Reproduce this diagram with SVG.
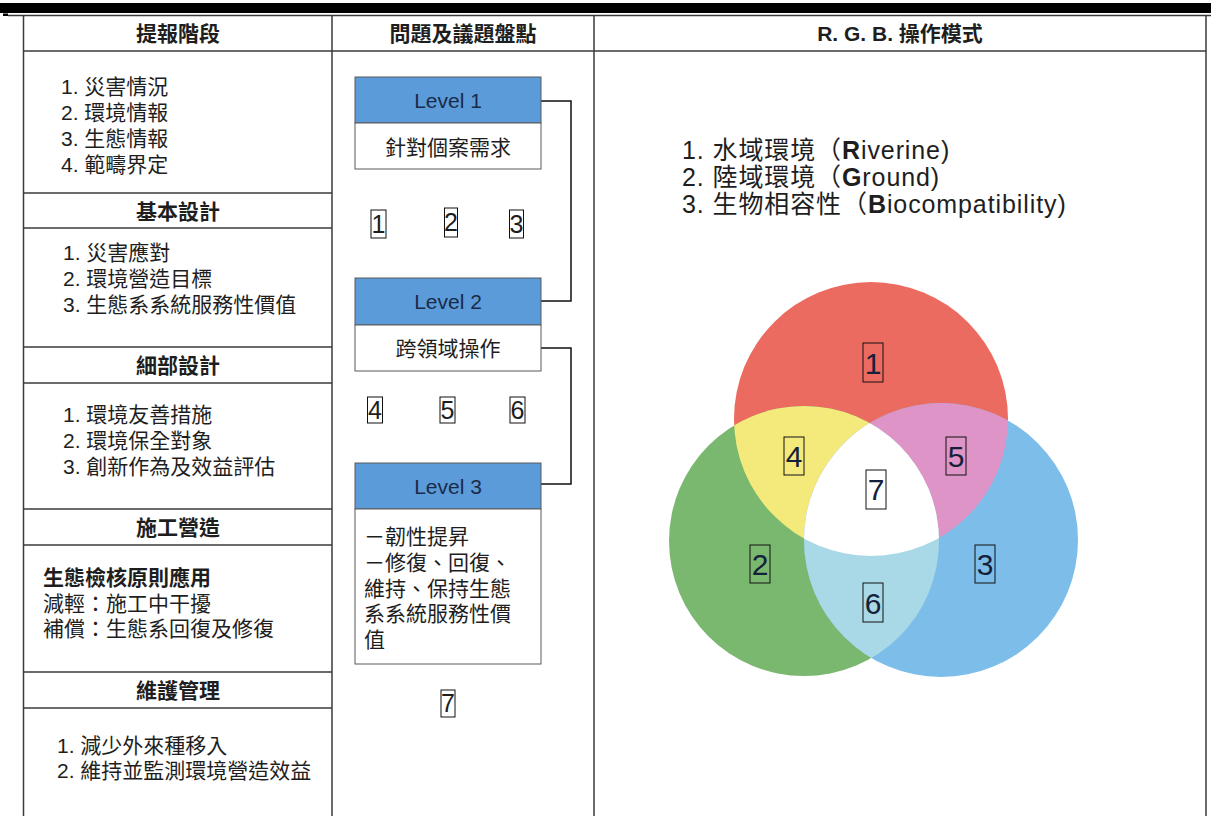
<svg xmlns="http://www.w3.org/2000/svg" width="1211" height="816" viewBox="0 0 1211 816">
<style>
text{font-family:"Liberation Sans","Noto Sans CJK TC",sans-serif;fill:#1e1e1e}
.t{font-size:21px}
.h{font-size:21px;font-weight:bold;text-anchor:middle}
.grid{stroke:#3a3a3a;stroke-width:1.5;fill:none}
.lvh{fill:#5b9bd9;stroke:#5a5a5a;stroke-width:1}
.lvb{fill:#ffffff;stroke:#5a5a5a;stroke-width:1}
.lvt{font-size:21px;text-anchor:middle;fill:#1b2a48}
.nb{fill:none;stroke:#111;stroke-width:1}
.nd{font-size:25px;text-anchor:middle}
.vd{font-size:30px;text-anchor:middle;fill:#15203a}
.lg{font-size:25px;letter-spacing:0.9px}
.conn{fill:none;stroke:#111;stroke-width:1.5}
</style>
<defs>
<clipPath id="cR"><circle cx="871" cy="419" r="137"/></clipPath>
<clipPath id="cG"><circle cx="804" cy="541" r="135"/></clipPath>
</defs>
<rect width="1211" height="816" fill="#ffffff"/>
<rect x="0" y="3" width="1211" height="10" fill="#000"/>
<rect x="3" y="13.5" width="5" height="2.5" fill="#000"/>
<g id="table" class="grid">
<line x1="8" y1="15.5" x2="1211" y2="15.5"/>
<line x1="23.5" y1="15" x2="23.5" y2="816"/>
<line x1="332" y1="15" x2="332" y2="816"/>
<line x1="594" y1="15" x2="594" y2="816"/>
<line x1="1206" y1="15" x2="1206" y2="816"/>
<line x1="23.5" y1="51" x2="1206" y2="51"/>
<line x1="23.5" y1="193" x2="332" y2="193"/>
<line x1="23.5" y1="228" x2="332" y2="228"/>
<line x1="23.5" y1="347" x2="332" y2="347"/>
<line x1="23.5" y1="383" x2="332" y2="383"/>
<line x1="23.5" y1="509" x2="332" y2="509"/>
<line x1="23.5" y1="545" x2="332" y2="545"/>
<line x1="23.5" y1="672" x2="332" y2="672"/>
<line x1="23.5" y1="708" x2="332" y2="708"/>
</g>
<g id="headers">
<text class="h" x="178" y="41">提報階段</text>
<text class="h" x="463" y="41">問題及議題盤點</text>
<text class="h" x="900" y="41">R. G. B. 操作模式</text>
</g>
<g id="stage1">
<text class="t" x="61" y="94">1. 災害情況</text>
<text class="t" x="61" y="120">2. 環境情報</text>
<text class="t" x="61" y="146">3. 生態情報</text>
<text class="t" x="61" y="172">4. 範疇界定</text>
</g>
<g id="stage2">
<text class="h" x="178" y="219">基本設計</text>
<text class="t" x="63" y="260">1. 災害應對</text>
<text class="t" x="63" y="286">2. 環境營造目標</text>
<text class="t" x="63" y="312">3. 生態系系統服務性價值</text>
</g>
<g id="stage3">
<text class="h" x="178" y="373">細部設計</text>
<text class="t" x="63" y="422">1. 環境友善措施</text>
<text class="t" x="63" y="448">2. 環境保全對象</text>
<text class="t" x="63" y="474">3. 創新作為及效益評估</text>
</g>
<g id="stage4">
<text class="h" x="178" y="535">施工營造</text>
<text class="t" x="43" y="585" font-weight="bold">生態檢核原則應用</text>
<text class="t" x="43" y="611">減輕：施工中干擾</text>
<text class="t" x="43" y="636">補償：生態系回復及修復</text>
</g>
<g id="stage5">
<text class="h" x="178" y="698">維護管理</text>
<text class="t" x="57" y="753">1. 減少外來種移入</text>
<text class="t" x="57" y="778">2. 維持並監測環境營造效益</text>
</g>
<g id="connectors">
<path class="conn" d="M541 101 H571 V301 H541"/>
<path class="conn" d="M541 348 H571 V484 H541"/>
</g>
<g id="level1">
<rect class="lvh" x="355" y="77" width="186" height="46"/>
<rect class="lvb" x="355" y="123" width="186" height="46"/>
<text class="lvt" x="448" y="108">Level 1</text>
<text class="lvt" x="448" y="155" style="fill:#1e1e1e">針對個案需求</text>
</g>
<g id="nums123">
<rect class="nb" x="371" y="210" width="15" height="28"/><text class="nd" x="378.5" y="233">1</text>
<rect class="nb" x="444.5" y="208" width="13" height="29"/><text class="nd" x="451" y="231">2</text>
<rect class="nb" x="509.5" y="210" width="14" height="28"/><text class="nd" x="516.5" y="233">3</text>
</g>
<g id="level2">
<rect class="lvh" x="355" y="278" width="186" height="47"/>
<rect class="lvb" x="355" y="325" width="186" height="46"/>
<text class="lvt" x="448" y="309">Level 2</text>
<text class="lvt" x="448" y="356" style="fill:#1e1e1e">跨領域操作</text>
</g>
<g id="nums456">
<rect class="nb" x="367.5" y="397" width="15" height="26"/><text class="nd" x="375" y="419">4</text>
<rect class="nb" x="440" y="397" width="15" height="26"/><text class="nd" x="447.5" y="419">5</text>
<rect class="nb" x="510" y="397" width="15" height="26"/><text class="nd" x="517.5" y="419">6</text>
</g>
<g id="level3">
<rect class="lvh" x="355" y="463" width="186" height="46"/>
<rect class="lvb" x="355" y="509" width="186" height="155"/>
<text class="lvt" x="448" y="494">Level 3</text>
<text class="t" x="364" y="544">－韌性提昇</text>
<text class="t" x="364" y="570">－修復、回復、</text>
<text class="t" x="364" y="596">維持、保持生態</text>
<text class="t" x="364" y="621">系系統服務性價</text>
<text class="t" x="364" y="647">值</text>
</g>
<g id="num7">
<rect class="nb" x="441" y="690" width="14" height="27"/><text class="nd" x="448" y="712">7</text>
</g>
<g id="legend">
<text class="lg" x="682" y="159">1. 水域環境（<tspan font-weight="bold">R</tspan>iverine)</text>
<text class="lg" x="682" y="186">2. 陸域環境（<tspan font-weight="bold">G</tspan>round)</text>
<text class="lg" x="682" y="213">3. 生物相容性（<tspan font-weight="bold">B</tspan>iocompatibility)</text>
</g>
<g id="venn">
<circle cx="871" cy="419" r="137" fill="#ec6b60"/>
<circle cx="804" cy="541" r="135" fill="#7bb86f"/>
<circle cx="941" cy="540" r="137" fill="#7dbde9"/>
<circle cx="804" cy="541" r="135" fill="#f4ea7c" clip-path="url(#cR)"/>
<circle cx="941" cy="540" r="137" fill="#de94c6" clip-path="url(#cR)"/>
<circle cx="941" cy="540" r="137" fill="#a9d9e6" clip-path="url(#cG)"/>
<g clip-path="url(#cR)"><circle cx="941" cy="540" r="137" fill="#ffffff" clip-path="url(#cG)"/></g>
</g>
<g id="venn-labels">
<rect class="nb" x="863" y="343" width="20" height="39"/><text class="vd" x="873" y="374">1</text>
<rect class="nb" x="750" y="545" width="20" height="38"/><text class="vd" x="760" y="575">2</text>
<rect class="nb" x="975" y="545" width="20" height="38"/><text class="vd" x="985" y="575">3</text>
<rect class="nb" x="784" y="437" width="20" height="38"/><text class="vd" x="794" y="467">4</text>
<rect class="nb" x="946" y="437" width="20" height="38"/><text class="vd" x="956" y="467">5</text>
<rect class="nb" x="863" y="583" width="20" height="39"/><text class="vd" x="873" y="614">6</text>
<rect class="nb" x="866" y="470" width="20" height="39"/><text class="vd" x="876" y="500">7</text>
</g>
</svg>
